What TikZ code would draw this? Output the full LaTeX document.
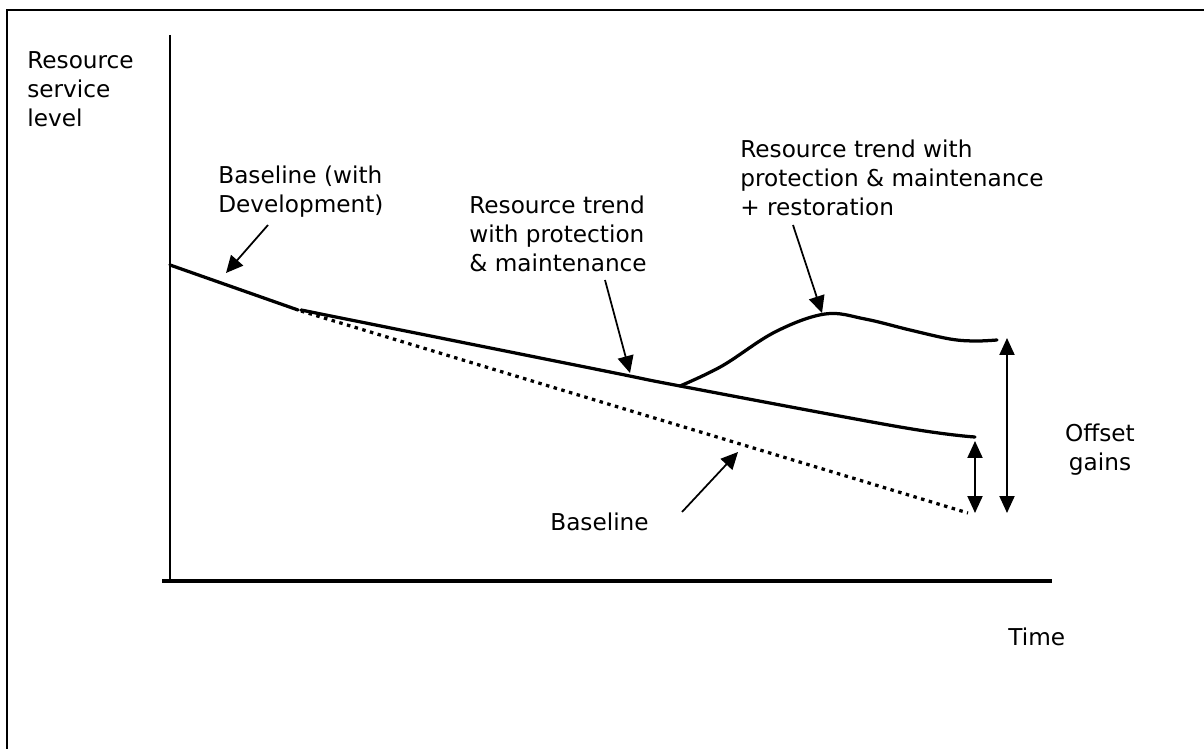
\documentclass[tikz,border=0pt]{standalone}
\usepackage{fontspec}
\setmainfont{DejaVu Sans}
\usetikzlibrary{arrows.meta, positioning}

\begin{document}
\begin{tikzpicture}[x=0.02cm, y=-0.02cm,
        txt/.style={inner sep=0pt, align=left, font=\fontsize{13.2}{16.5}\selectfont},
        pointer/.style={line width=0.035cm, -{Triangle[length=0.34cm, width=0.32cm]}},
        gap/.style={line width=0.04cm, {Triangle[length=0.34cm, width=0.3cm]}-{Triangle[length=0.34cm, width=0.3cm]}},
        trend/.style={line width=0.065cm, line cap=round}]
        \useasboundingbox (0,0) rectangle (1204,749);

        % Frame
        \draw[line width=0.045cm] (1204,10) -- (7,10) -- (7,749);

        % Axes
        \draw[line width=0.045cm] (170,35) -- (170,580);
        \draw[line width=0.065cm] (162,581) -- (1052,581);

        % Points on the curves
        \coordinate (start) at (170,265);
        \coordinate (fork) at (298,310);
        \coordinate (branch) at (680,386);
        \coordinate (trendend) at (975,437);
        \coordinate (baseend) at (968,513);
        \coordinate (peak) at (825,314);
        \coordinate (restend) at (997,340);

        % Curves
        \draw[trend] (start) -- (fork);
        \draw[trend] plot[smooth, tension=0.6] coordinates {(301,310) (600,370) (branch) (900,427) (trendend)};
        \draw[line width=0.065cm, dash pattern=on 0.07cm off 0.09cm] (301,311) -- (baseend);
        \draw[trend] plot[smooth, tension=0.6] coordinates {(branch) (722,366) (775,332) (peak) (865,319) (910,330) (950,339) (975,341) (restend)};

        % Labels
        \node[txt, anchor=west] (ylabel) at (27,89) {Resource\\service\\level};
        \node[txt, anchor=west] (devlabel) at (218,192) {Baseline (with\\Development)};
        \node[txt, anchor=west] (protlabel) at (469,234) {Resource trend\\with protection\\\& maintenance};
        \node[txt, anchor=west] (restlabel) at (740,178) {Resource trend with\\protection \& maintenance\\+ restoration};
        \node[txt, anchor=west] (baselabel) at (550,522) {Baseline};
        \node[txt, align=center] (offlabel) at (1100,450) {Offset\\gains};
        \node[txt, anchor=west] (timelabel) at (1008,637) {Time};

        % Pointers
        \coordinate (devfrom) at (268,225);
        \coordinate (devto) at (226,273);
        \coordinate (protfrom) at (605,280);
        \coordinate (protto) at (630,373);
        \coordinate (restfrom) at (793,225);
        \coordinate (restto) at (822,313);
        \coordinate (basefrom) at (682,512);
        \coordinate (baseto) at (738,452);
        \draw[pointer] (devfrom) -- (devto);
        \draw[pointer] (protfrom) -- (protto);
        \draw[pointer] (restfrom) -- (restto);
        \draw[pointer] (basefrom) -- (baseto);

        % Offset gains
        \coordinate (smalltop) at (975,441);
        \coordinate (smallbot) at (975,513);
        \coordinate (bigtop) at (1007,338);
        \coordinate (bigbot) at (1007,513);
        \draw[gap] (smalltop) -- (smallbot);
        \draw[gap] (bigtop) -- (bigbot);
    \end{tikzpicture}
\end{document}
